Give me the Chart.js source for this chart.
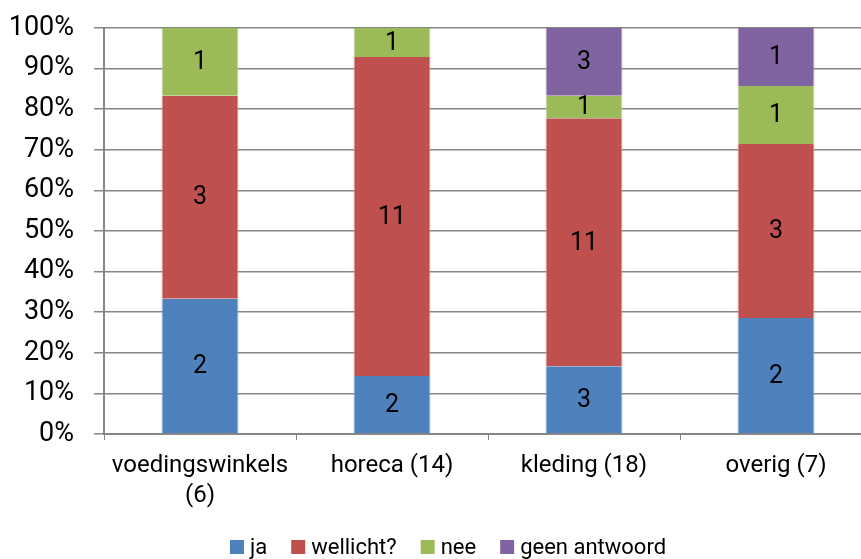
<!DOCTYPE html>
<html>
<head>
<meta charset="utf-8">
<script src="https://cdn.jsdelivr.net/npm/chart.js@4"></script>
<style>
  html, body { margin: 0; padding: 0; background: #fff; overflow: hidden; }
  #wrap { width: 875px; height: 559px; }
</style>
</head>
<body>
<div id="wrap"><canvas id="chart" width="875" height="559"></canvas></div>
<script>
// stacked 100% bars, counts per answer per sector
const categories = [["voedingswinkels", "(6)"], "horeca (14)", "kleding (18)", "overig (7)"];
const seriesNames = ["ja", "wellicht?", "nee", "geen antwoord"];
const ja = [2, 2, 3, 2];
const wellicht = [3, 11, 11, 3];
const nee = [1, 1, 1, 1];
const geenAntwoord = [0, 0, 3, 1];
const yTicks = [0, 10, 20, 30, 40, 50, 60, 70, 80, 90, 100];

const colors = ["#4F81BD", "#C0504D", "#9BBB59", "#8064A2"];
const borders = ["#8EAEDA", "#DC8F8D", "#C3D89A", "#AE9CC8"];
const FONT = "Roboto, 'Liberation Sans', sans-serif";

const counts = [ja, wellicht, nee, geenAntwoord];
const totals = categories.map((_, i) => counts.reduce((s, arr) => s + arr[i], 0));
const pct = (arr) => arr.map((v, i) => (v / totals[i]) * 100);

// draw the count in the middle of each segment
const countLabels = {
  id: "countLabels",
  afterDatasetsDraw(chart) {
    const ctx = chart.ctx;
    ctx.save();
    ctx.font = "25px " + FONT;
    ctx.fillStyle = "#000";
    ctx.textAlign = "center";
    ctx.textBaseline = "middle";
    chart.data.datasets.forEach((ds, di) => {
      const meta = chart.getDatasetMeta(di);
      meta.data.forEach((bar, i) => {
        const n = counts[di][i];
        if (!n) return;
        ctx.fillText(String(n), bar.x, (bar.y + bar.base) / 2 + 1);
      });
    });
    ctx.restore();
  },
};

// simple bottom legend, squares close to the text like the original
const bottomLegend = {
  id: "bottomLegend",
  afterDraw(chart) {
    const ctx = chart.ctx;
    const box = 14, gap = 6, itemGap = 24, cy = 547, cx = 448;
    ctx.save();
    ctx.font = "22px " + FONT;
    ctx.textBaseline = "middle";
    const widths = chart.data.datasets.map((ds) => ctx.measureText(ds.label).width);
    const total = widths.reduce((s, w) => s + box + gap + w, 0) + itemGap * (widths.length - 1);
    let x = cx - total / 2;
    chart.data.datasets.forEach((ds, i) => {
      ctx.fillStyle = ds.backgroundColor;
      ctx.fillRect(x, cy - box / 2, box, box);
      ctx.fillStyle = "#000";
      ctx.fillText(ds.label, x + box + gap, cy + 1);
      x += box + gap + widths[i] + itemGap;
    });
    ctx.restore();
  },
};

new Chart(document.getElementById("chart"), {
  type: "bar",
  data: {
    labels: categories,
    datasets: counts.map((arr, i) => ({
      label: seriesNames[i],
      data: pct(arr),
      backgroundColor: colors[i],
      borderColor: borders[i],
      borderWidth: { left: 1, right: 1, top: 0, bottom: 0 },
      barPercentage: 0.4,
      categoryPercentage: 1,
    })),
  },
  options: {
    responsive: false,
    animation: false,
    layout: { padding: { top: 28, right: 3, left: 0, bottom: 0 } },
    plugins: {
      legend: { display: false },
      tooltip: { enabled: false },
    },
    scales: {
      x: {
        stacked: true,
        afterFit: (s) => { s.height = 125; s.paddingLeft = 0; s.paddingRight = 0; },
        grid: { offset: true, drawOnChartArea: false, color: "#868686", tickLength: 6 },
        border: { color: "#868686", width: 2 },
        ticks: {
          color: "#000",
          padding: 11,
          autoSkip: false,
          maxRotation: 0,
          minRotation: 0,
          font: { family: FONT, size: 24, lineHeight: 1.25 },
        },
      },
      y: {
        stacked: true,
        min: 0,
        max: 100,
        afterFit: (s) => { s.width = 104; s.paddingTop = 0; s.paddingBottom = 0; },
        afterBuildTicks: (s) => { s.ticks = yTicks.map((v) => ({ value: v })); },
        grid: { color: "#868686", lineWidth: 1.5, tickLength: 10 },
        border: { color: "#868686", width: 2 },
        ticks: {
          color: "#000",
          padding: 20,
          autoSkip: false,
          font: { family: FONT, size: 27 },
          callback: (v) => v + "%",
        },
      },
    },
  },
  plugins: [countLabels, bottomLegend],
});
</script>
</body>
</html>
